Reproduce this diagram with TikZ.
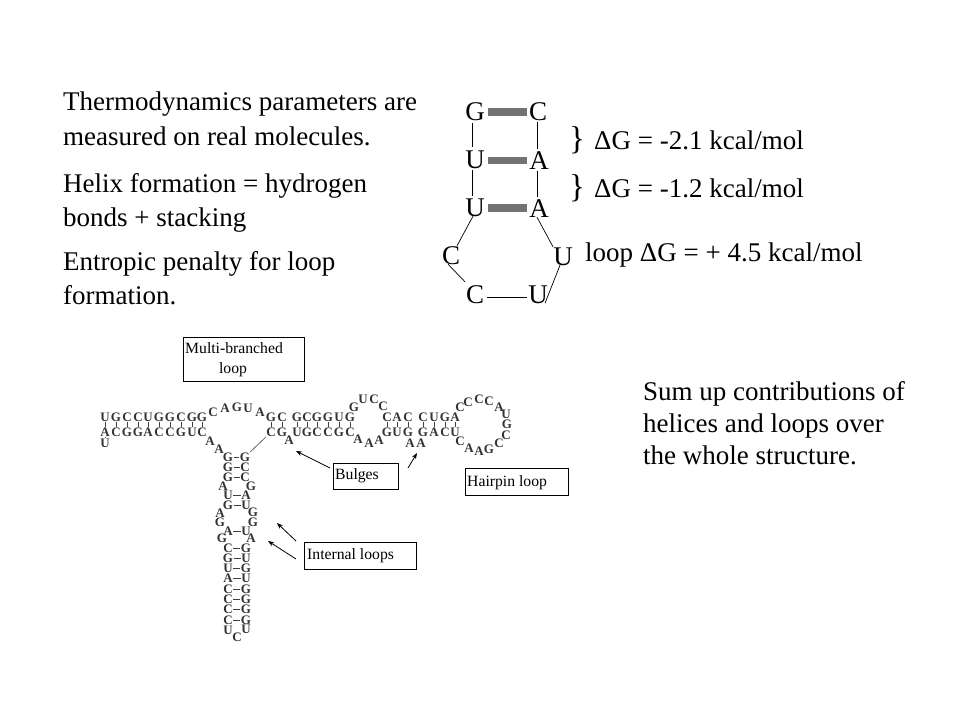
\documentclass[tikz,border=0pt]{standalone}
\usepackage{fontspec}
\setmainfont{Liberation Serif}
\usetikzlibrary{arrows.meta}
\tikzset{
 body/.style={anchor=base west,inner sep=0pt,font=\fontsize{27}{30}\selectfont},
 big/.style={inner sep=0pt,text height=18pt,text depth=0pt,font=\fontsize{27}{30}\selectfont},
 brace/.style={inner sep=0pt,font=\fontsize{33}{33}\selectfont},
 rna/.style={inner sep=0pt,text height=8.5pt,text depth=0pt,font=\fontsize{13}{13}\bfseries\selectfont,text=black!80},
 bond/.style={draw=black!75,line width=0.6pt,shorten >=0.5pt,shorten <=0.5pt},
 link/.style={draw=black,line width=0.7pt},
 pair/.style={draw=gray!90!black,line width=7.5pt},
 lab/.style={draw=black,line width=0.8pt,inner sep=0pt},
 labtext/.style={inner sep=0pt,font=\fontsize{15.7}{18}\selectfont},
 pointer/.style={draw=black,line width=0.8pt,-{Stealth[length=6pt,width=4.5pt]}}
}
\begin{document}
\begin{tikzpicture}[x=1pt,y=-1pt]
\useasboundingbox (0,0) rectangle (960,720);
% text blocks
\node[body] (t1) at (63,110) {Thermodynamics parameters are};
\node[body] (t2) at (63,145) {measured on real molecules.};
\node[body] (t3) at (63,192) {Helix formation = hydrogen};
\node[body] (t4) at (63,226) {bonds + stacking};
\node[body] (t5) at (63,270) {Entropic penalty for loop};
\node[body] (t6) at (63,304) {formation.};
\node[body] (s1) at (643,400) {Sum up contributions of};
\node[body] (s2) at (643,432) {helices and loops over};
\node[body] (s3) at (643,464) {the whole structure.};
\node[body] (d1) at (594,149) {ΔG = -2.1 kcal/mol};
\node[body] (d2) at (594,197) {ΔG = -1.2 kcal/mol};
\node[body] (d3) at (585,261) {loop ΔG = + 4.5 kcal/mol};
\node[brace] (br1) at (577,140) {\}};
\node[brace] (br2) at (577,188) {\}};
% small hairpin
\node[big] (g1) at (475,111) {G};
\node[big] (c1) at (538,111) {C};
\node[big] (u1) at (475,159) {U};
\node[big] (a1) at (539,160) {A};
\node[big] (u2) at (475,207) {U};
\node[big] (a2) at (539,208) {A};
\node[big] (c2) at (451,255) {C};
\node[big] (u3) at (563,256) {U};
\node[big] (c3) at (475,294) {C};
\node[big] (u4) at (538,294) {U};
\draw[pair] ([xshift=3pt,yshift=-1pt]g1.east) -- ([xshift=-2pt,yshift=-1pt]c1.west);
\draw[pair] ([xshift=3pt,yshift=-1.5pt]u1.east) -- ([xshift=-2pt,yshift=-0.5pt]a1.west);
\draw[pair] ([xshift=3pt,yshift=-1pt]u2.east) -- ([xshift=-2pt]a2.west);
\draw[link] ([xshift=-3pt,yshift=-3pt]g1.south) -- ([xshift=-3pt,yshift=3pt]u1.north);
\draw[link] ([xshift=-3pt,yshift=-2pt]u1.south) -- ([xshift=-3pt,yshift=2pt]u2.north);
\draw[link] ([xshift=-1pt,yshift=-2pt]c1.south) -- ([xshift=-2pt,yshift=2pt]a1.north);
\draw[link] ([xshift=-2pt,yshift=-2pt]a1.south) -- ([xshift=-2pt,yshift=2pt]a2.north);
\draw[link] ([xshift=-2pt]u2.south) -- ([xshift=6pt]c2.north);
\draw[link] ([xshift=-3pt]c2.south) -- ([xshift=-10pt,yshift=3pt]c3.north);
\draw[link] ([xshift=-2pt]a2.south) -- ([xshift=-10pt]u3.north);
\draw[link] ([xshift=-3pt]u3.south) -- ([xshift=7pt]u4.south);
\draw[link] ([xshift=3pt,yshift=-3pt]c3.east) -- ([xshift=-1pt,yshift=-3pt]u4.west);
% large RNA
\foreach \n/\x/\y/\t in {
 a1/105/417/U,a2/116/417/G,a3/127/417/C,a4/138/417/C,a5/148/417/U,a6/159/417/G,a7/170/417/G,a8/181/417/C,a9/192/417/G,a10/202/417/G,
 b1/105/432/A,b2/116/432/C,b3/127/432/G,b4/138/432/G,b5/148/432/A,b6/159/432/C,b7/170/432/C,b8/181/432/G,b9/192/432/U,b10/202/432/C,
 x1/105/443/U,
 m1/213/412/C,m2/225/408/A,m3/237/407/G,m4/248/408/U,m5/260/412/A,
 a11/271/417/G,a12/282/417/C,b11/271/432/C,b12/282/432/G,m6/289/440/A,
 a13/297/417/G,a14/307/417/C,a15/317/417/G,a16/328/417/G,a17/339/417/U,a18/350/417/G,
 b13/297/432/U,b14/307/432/G,b15/317/432/C,b16/328/432/C,b17/339/432/G,b18/350/432/C,
 n1/354/407/G,n2/363/399/U,n3/374/399/C,n4/383/406/C,
 o1/358/439/A,o2/369/443/A,o3/379/440/A,
 a19/387/417/C,a20/397/417/A,a21/408/417/C,b19/387/432/G,b20/397/432/U,b21/408/432/G,
 o4/410/443/A,o5/421/443/A,
 a22/423/417/C,a23/434/417/U,a24/445/417/G,a25/455/417/A,b22/423/432/G,b23/434/432/A,b24/445/432/C,b25/455/432/U,
 h1/460/407/C,h2/468/402/C,h3/479/399/C,h4/489/401/C,h5/499/407/A,h6/506/414/U,h7/507/424/G,h8/506/435/C,h9/499/443/C,h10/489/449/G,h11/479/451/A,h12/469/448/A,h13/460/441/C,
 q1/210/441/A,q2/219/449/A,
 l1/228/457/G,r1/245/457/G,l2/228/467/G,r2/245/467/C,l3/228/477/G,r3/245/477/C,
 q3/223/486/A,q4/251/486/G,
 l4/228/495/U,r4/246/495/A,l5/228/505/G,r5/246/505/U,
 q5/220/513/A,q6/253/512/G,q7/220/522/G,q8/253/522/G,
 l6/228/531/A,r6/246/531/U,
 q9/222/538/G,q10/251/538/A,
 l7/228/548/C,r7/246/548/G,l8/228/558/G,r8/246/558/U,l9/228/568/U,r9/246/568/G,l10/228/578/A,r10/246/578/U,
 l11/228/589/C,r11/246/589/G,l12/228/599/C,r12/246/599/G,l13/228/609/C,r13/246/609/G,l14/228/620/C,r14/246/620/G,
 e1/228/630/U,e2/246/629/U,e3/237/637/C}
 \node[rna] (\n) at (\x,\y) {\t};
\foreach \i in {1,...,25} \draw[bond] (a\i) -- (b\i);
\draw[bond] (b1) -- (x1);
\foreach \i in {1,...,14} \draw[bond] (l\i) -- (r\i);
\draw[bond] (r1) -- (b11);
% labels
\node[lab,minimum width=121pt,minimum height=44pt] (bx1) at (243.5,359) {};
\node[labtext,anchor=base west] (bx1a) at (185,353) {Multi-branched};
\node[labtext,anchor=base] (bx1b) at (233,373) {loop};
\node[lab,minimum width=65pt,minimum height=26pt] (bx2) at (365.5,476) {};
\node[labtext,anchor=base west] (bx2a) at (335,479) {Bulges};
\node[lab,minimum width=103pt,minimum height=27pt] (bx3) at (516.5,481.5) {};
\node[labtext,anchor=base west] (bx3a) at (467,486) {Hairpin loop};
\node[lab,minimum width=112pt,minimum height=27pt] (bx4) at (360,555.5) {};
\node[labtext,anchor=base west] (bx4a) at (307,559) {Internal loops};
% arrows
\coordinate (p1s) at (330,468); \coordinate (p1e) at (296,451);
\coordinate (p2s) at (408,468); \coordinate (p2e) at (417,453);
\coordinate (p3s) at (296,541); \coordinate (p3e) at (277,523);
\coordinate (p4s) at (296,559); \coordinate (p4e) at (268,541);
\draw[pointer] (p1s) -- (p1e);
\draw[pointer] (p2s) -- (p2e);
\draw[pointer] (p3s) -- (p3e);
\draw[pointer] (p4s) -- (p4e);
\end{tikzpicture}
\end{document}
